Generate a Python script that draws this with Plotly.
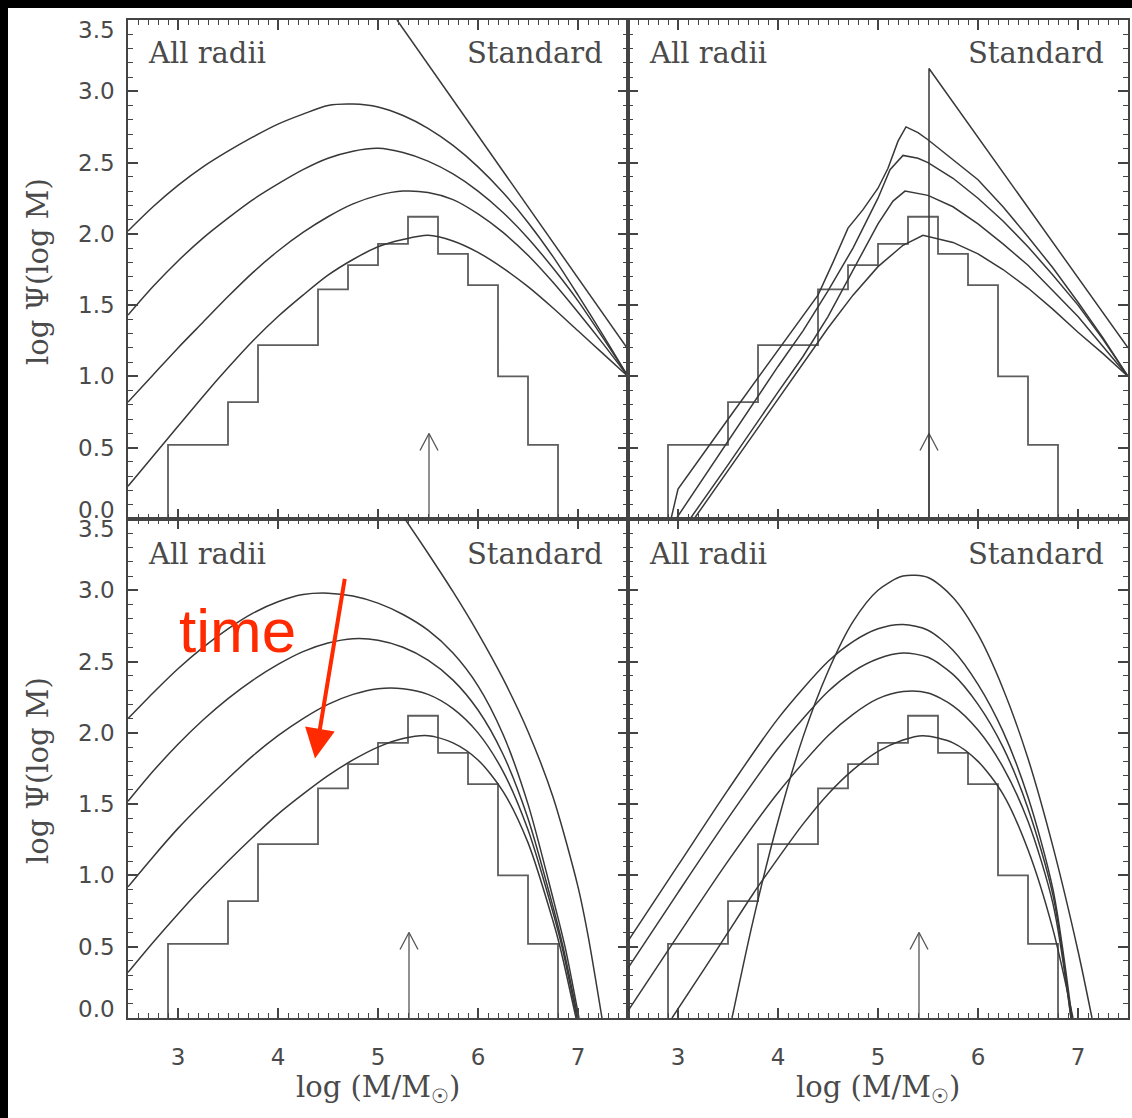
import plotly.graph_objects as go
from plotly.subplots import make_subplots

W, H = 1132, 1118

# ---------------- data ----------------
# Milky Way globular-cluster histogram (same in every panel)
HIST_EDGES = [2.9, 3.5, 3.8, 4.4, 4.7, 5.0, 5.3, 5.6, 5.9, 6.2, 6.5, 6.8]
HIST_HEIGHTS = [0.52, 0.82, 1.22, 1.61, 1.78, 1.93, 2.12, 1.86, 1.64, 1.00, 0.52]

# arrow positions (log M marker), arrow tip height
ARROW_X = {"tl": 5.51, "tr": 5.51, "bl": 5.31, "br": 5.41}
ARROW_TIP = 0.60

GRID = [2.5, 2.75, 3.0, 3.25, 3.5, 3.75, 4.0, 4.25, 4.5, 4.75, 5.0, 5.25,
        5.5, 5.75, 6.0, 6.25, 6.5, 6.75, 7.0, 7.25, 7.5]

# --- top-left panel
TL_INIT_X = [5.19, 7.5]
TL_INIT_Y = [3.5, 1.19]
TL_A = [2.02, 2.19, 2.34, 2.47, 2.58, 2.68, 2.77, 2.84, 2.90, 2.91, 2.89, 2.83,
        2.74, 2.62, 2.47, 2.29, 2.08, 1.84, 1.57, 1.29, 1.00]
TL_B = [1.43, 1.63, 1.81, 1.97, 2.11, 2.24, 2.35, 2.45, 2.53, 2.58, 2.60, 2.57,
        2.51, 2.42, 2.30, 2.15, 1.97, 1.76, 1.53, 1.27, 1.00]
TL_C = [0.82, 1.01, 1.20, 1.38, 1.56, 1.73, 1.88, 2.01, 2.12, 2.21, 2.27, 2.30,
        2.29, 2.24, 2.14, 2.01, 1.85, 1.66, 1.45, 1.23, 1.00]
TL_D = [0.23, 0.44, 0.65, 0.86, 1.06, 1.25, 1.42, 1.57, 1.71, 1.82, 1.91, 1.96,
        1.99, 1.95, 1.87, 1.76, 1.63, 1.48, 1.32, 1.16, 1.00]

# --- top-right panel
TR_INIT_X = [5.51, 5.51, 7.5]
TR_INIT_Y = [0.0, 3.16, 1.20]
TR_A_X = [2.93, 3.0, 3.5, 4.0, 4.4, 4.55, 4.7, 4.85, 5.0, 5.1, 5.2, 5.28, 5.4,
          5.5, 5.75, 6.0, 6.25, 6.5, 6.75, 7.0, 7.25, 7.5]
TR_A_Y = [0.0, 0.21, 0.70, 1.18, 1.57, 1.80, 2.04, 2.17, 2.32, 2.46, 2.65, 2.75,
          2.71, 2.66, 2.52, 2.38, 2.19, 1.98, 1.76, 1.52, 1.27, 1.00]
TR_B_X = [2.98, 3.5, 4.0, 4.25, 4.5, 4.75, 5.0, 5.12, 5.25, 5.4, 5.5, 5.75,
          6.0, 6.25, 6.5, 6.75, 7.0, 7.25, 7.5]
TR_B_Y = [0.0, 0.55, 1.07, 1.32, 1.60, 1.90, 2.25, 2.45, 2.55, 2.53, 2.50, 2.39,
          2.25, 2.09, 1.91, 1.71, 1.50, 1.26, 1.00]
TR_C_X = [3.12, 3.5, 4.0, 4.25, 4.5, 4.75, 5.0, 5.15, 5.27, 5.5, 5.75, 6.0,
          6.25, 6.5, 6.75, 7.0, 7.25, 7.5]
TR_C_Y = [0.0, 0.38, 0.89, 1.14, 1.42, 1.75, 2.07, 2.23, 2.30, 2.27, 2.19, 2.07,
          1.93, 1.78, 1.60, 1.42, 1.21, 1.00]
TR_D_X = [3.16, 3.5, 4.0, 4.5, 4.75, 5.0, 5.25, 5.45, 5.75, 6.0, 6.25, 6.5,
          6.75, 7.0, 7.25, 7.5]
TR_D_Y = [0.0, 0.34, 0.84, 1.34, 1.57, 1.77, 1.92, 1.99, 1.94, 1.86, 1.75, 1.62,
          1.47, 1.31, 1.16, 1.00]

# --- bottom-left panel
BL_INIT_X = [5.27, 5.5, 5.75, 6.0, 6.25, 6.5, 6.75, 7.0, 7.1, 7.24]
BL_INIT_Y = [3.5, 3.26, 2.99, 2.70, 2.38, 2.01, 1.55, 0.92, 0.58, 0.0]
BL_X = [2.5, 2.75, 3.0, 3.25, 3.5, 3.75, 4.0, 4.25, 4.5, 4.75, 5.0, 5.25,
        5.5, 5.75, 6.0, 6.25, 6.5, 6.75]
BL_A_X = BL_X + [6.87, 7.01]
BL_A_Y = [2.10, 2.28, 2.45, 2.60, 2.73, 2.84, 2.92, 2.97, 2.98, 2.96, 2.91, 2.83,
          2.72, 2.56, 2.33, 1.99, 1.50, 0.84, 0.50, 0.0]
BL_B_X = BL_X + [6.85, 7.0]
BL_B_Y = [1.52, 1.73, 1.92, 2.09, 2.24, 2.37, 2.48, 2.57, 2.63, 2.66, 2.65, 2.60,
          2.51, 2.37, 2.16, 1.85, 1.40, 0.78, 0.50, 0.0]
BL_C_X = BL_X + [6.84, 6.99]
BL_C_Y = [0.92, 1.13, 1.33, 1.51, 1.68, 1.84, 1.98, 2.10, 2.20, 2.27, 2.31, 2.31,
          2.27, 2.17, 2.00, 1.73, 1.32, 0.74, 0.50, 0.0]
BL_D_X = BL_X + [6.82, 6.98]
BL_D_Y = [0.32, 0.53, 0.73, 0.92, 1.10, 1.27, 1.43, 1.57, 1.70, 1.81, 1.90, 1.96,
          1.98, 1.93, 1.81, 1.59, 1.23, 0.68, 0.50, 0.0]

# --- bottom-right panel
BR_INIT_X = [3.54, 3.75, 4.0, 4.25, 4.5, 4.75, 5.0, 5.25, 5.5, 5.75, 6.0, 6.25,
             6.5, 6.75, 7.0, 7.14]
BR_INIT_Y = [0.0, 0.68, 1.38, 1.97, 2.43, 2.78, 3.00, 3.10, 3.09, 2.95, 2.69, 2.31,
             1.82, 1.20, 0.47, 0.0]
BR_X = [2.5, 3.0, 3.5, 4.0, 4.5, 4.75, 5.0, 5.25, 5.5, 5.75, 6.0, 6.25, 6.5, 6.75]
BR_A_X = BR_X + [6.94]
BR_A_Y = [0.54, 1.07, 1.60, 2.10, 2.50, 2.64, 2.73, 2.76, 2.72, 2.58, 2.34, 2.01,
          1.55, 0.90, 0.0]
BR_B_X = BR_X + [6.93]
BR_B_Y = [0.35, 0.88, 1.40, 1.89, 2.29, 2.43, 2.52, 2.56, 2.53, 2.41, 2.20, 1.90,
          1.47, 0.86, 0.0]
BR_C_X = BR_X + [6.93]
BR_C_Y = [0.05, 0.58, 1.10, 1.58, 1.98, 2.13, 2.24, 2.29, 2.28, 2.19, 2.02, 1.76,
          1.38, 0.80, 0.0]
BR_D_X = [2.94, 3.25, 3.5, 3.75, 4.0, 4.25, 4.5, 4.75, 5.0, 5.25, 5.45, 5.75,
          6.0, 6.25, 6.5, 6.75, 6.95]
BR_D_Y = [0.0, 0.33, 0.60, 0.87, 1.12, 1.36, 1.57, 1.74, 1.87, 1.95, 1.98, 1.93,
          1.80, 1.57, 1.18, 0.62, 0.0]

# red annotation ("time" arrow) in bottom-left panel, data coordinates
TIME_TEXT_POS = (3.59, 2.72)
TIME_ARROW_TAIL = (4.67, 3.09)
TIME_ARROW_HEAD = (4.37, 1.82)

Y_TICKS = [0.0, 0.5, 1.0, 1.5, 2.0, 2.5, 3.0, 3.5]
Y_TICK_TEXT = ['0.0', '0.5', '1.0', '1.5', '2.0', '2.5', '3.0', '3.5']

# ---------------- figure ----------------
INK = '#383838'
TXT = '#4a4a4a'
AXC = '#444444'
fig = make_subplots(rows=2, cols=2, horizontal_spacing=0, vertical_spacing=0)

panels = {"tl": (1, 1), "tr": (1, 2), "bl": (2, 1), "br": (2, 2)}
yref_of = {"tl": "y", "tr": "y2", "bl": "y3", "br": "y4"}


def add_line(x, y, key, shape='spline', width=1.5, color=INK):
    r, c = panels[key]
    fig.add_trace(go.Scatter(x=x, y=y, mode='lines', hoverinfo='skip', showlegend=False,
                             line=dict(color=color, width=width, shape=shape,
                                       smoothing=0.8 if shape == 'spline' else None)),
                  row=r, col=c)


hx = [HIST_EDGES[0]] + HIST_EDGES[:-1] + [HIST_EDGES[-1], HIST_EDGES[-1]]
hy = [0.0] + HIST_HEIGHTS + [HIST_HEIGHTS[-1], 0.0]

for key in panels:
    add_line(hx, hy, key, shape='hv', width=1.8, color='#5e5e5e')
    ax = ARROW_X[key]
    add_line([ax, ax], [0.0, ARROW_TIP], key, shape='linear', width=1.3, color='#555')
    add_line([ax - 0.09, ax, ax + 0.09], [ARROW_TIP - 0.12, ARROW_TIP, ARROW_TIP - 0.12],
             key, shape='linear', width=1.3, color='#555')

add_line(TL_INIT_X, TL_INIT_Y, "tl", shape='linear')
for yy in (TL_A, TL_B, TL_C, TL_D):
    add_line(GRID, yy, "tl")

add_line(TR_INIT_X, TR_INIT_Y, "tr", shape='linear')
for xx, yy in ((TR_A_X, TR_A_Y), (TR_B_X, TR_B_Y), (TR_C_X, TR_C_Y), (TR_D_X, TR_D_Y)):
    add_line(xx, yy, "tr", shape='linear')

add_line(BL_INIT_X, BL_INIT_Y, "bl")
for xx, yy in ((BL_A_X, BL_A_Y), (BL_B_X, BL_B_Y), (BL_C_X, BL_C_Y), (BL_D_X, BL_D_Y)):
    add_line(xx, yy, "bl")

add_line(BR_INIT_X, BR_INIT_Y, "br")
for xx, yy in ((BR_A_X, BR_A_Y), (BR_B_X, BR_B_Y), (BR_C_X, BR_C_Y), (BR_D_X, BR_D_Y)):
    add_line(xx, yy, "br")

# ---------------- axes ----------------
xl = [128 / W, 628 / W]
xr = [628 / W, 1128 / W]
yt = [1 - 519 / H, 1 - 20 / H]
yb = [1 - 1018 / H, 1 - 519 / H]

tickfont = dict(family='DejaVu Sans', size=23, color=TXT)

for key, (r, c) in panels.items():
    xd = xl if c == 1 else xr
    yd = yt if r == 1 else yb
    fig.update_xaxes(row=r, col=c, domain=xd, range=[2.5, 7.5],
                     showline=True, linecolor=AXC, linewidth=1.5, mirror='allticks',
                     ticks='inside', ticklen=10, tickwidth=1.5, tickcolor=AXC,
                     tickfont=tickfont, gridcolor='rgba(0,0,0,0)', zeroline=False,
                     showticklabels=(r == 2), ticklabelstandoff=18,
                     minor=dict(ticks='inside', ticklen=5, tickcolor=AXC, tickwidth=1.2,
                                dtick=0.1))
    fig.update_yaxes(row=r, col=c, domain=yd, range=[0, 3.5],
                     showline=True, linecolor=AXC, linewidth=1.5, mirror='allticks',
                     ticks='inside', ticklen=10, tickwidth=1.5, tickcolor=AXC,
                     tickfont=tickfont, gridcolor='rgba(0,0,0,0)', zeroline=False,
                     showticklabels=False,
                     minor=dict(ticks='inside', ticklen=5, tickcolor=AXC, tickwidth=1.2,
                                dtick=0.1))

ann = []
# y tick labels (end labels shifted inward, as in the original)
for key in ("tl", "bl"):
    for v, t in zip(Y_TICKS, Y_TICK_TEXT):
        shift = -10 if v == 3.5 else (9 if v == 0.0 else 0)
        ann.append(dict(xref='paper', yref=yref_of[key], x=117 / W, y=v, text=t,
                        showarrow=False, xanchor='right', yanchor='middle', yshift=shift,
                        font=tickfont))

labfont = dict(family='DejaVu Serif', size=29, color=TXT)
for (x0, x1, ytop) in ((146, 605, 53), (647, 1106, 53), (146, 605, 554), (647, 1106, 554)):
    ann.append(dict(xref='paper', yref='paper', x=x0 / W, y=1 - ytop / H, text='All radii',
                    showarrow=False, xanchor='left', yanchor='middle', font=labfont))
    ann.append(dict(xref='paper', yref='paper', x=x1 / W, y=1 - ytop / H, text='Standard',
                    showarrow=False, xanchor='right', yanchor='middle', font=labfont))

titlefont = dict(family='DejaVu Serif', size=29, color=TXT)
for yc in (272, 771):
    ann.append(dict(xref='paper', yref='paper', x=38 / W, y=1 - yc / H, text='log Ψ(log M)',
                    textangle=-90, showarrow=False, xanchor='center', yanchor='middle',
                    font=titlefont))
for xc in (378, 878):
    ann.append(dict(xref='paper', yref='paper', x=xc / W, y=1 - 1089 / H,
                    text='log (M/M<sub>☉</sub>)', showarrow=False, xanchor='center',
                    yanchor='middle', font=titlefont))

RED = '#ff2a00'
ann.append(dict(xref='x3', yref='y3', x=TIME_TEXT_POS[0], y=TIME_TEXT_POS[1], text='time',
                showarrow=False, xanchor='center', yanchor='middle',
                font=dict(family='Liberation Sans', size=62, color=RED)))
ann.append(dict(xref='x3', yref='y3', x=TIME_ARROW_HEAD[0], y=TIME_ARROW_HEAD[1],
                axref='x3', ayref='y3', ax=TIME_ARROW_TAIL[0], ay=TIME_ARROW_TAIL[1],
                text='', showarrow=True, arrowhead=2, arrowsize=1.5, arrowwidth=4,
                arrowcolor=RED, standoff=0))

shapes = [
    dict(type='rect', xref='paper', yref='paper', x0=0, x1=1, y0=1 - 8 / H, y1=1,
         fillcolor='black', line=dict(width=0), layer='above'),
    dict(type='rect', xref='paper', yref='paper', x0=0, x1=8 / W, y0=0, y1=1,
         fillcolor='black', line=dict(width=0), layer='above'),
]

fig.update_layout(width=W, height=H, margin=dict(l=0, r=0, t=0, b=0),
                  paper_bgcolor='white', plot_bgcolor='white', showlegend=False,
                  annotations=ann, shapes=shapes)

fig.write_html("out.html")
